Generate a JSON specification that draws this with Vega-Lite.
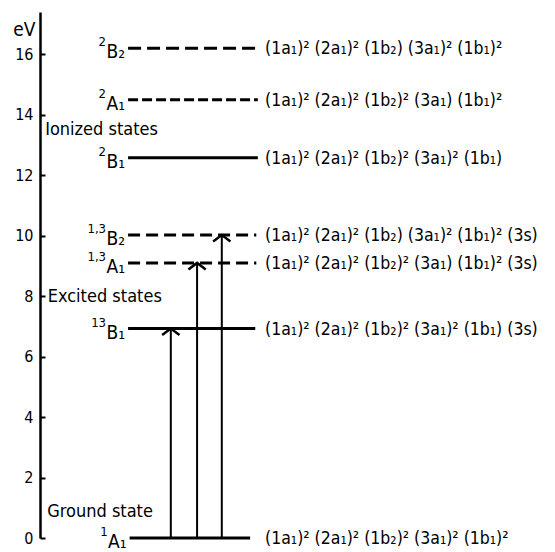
{
  "$schema": "https://vega.github.io/schema/vega-lite/v6.json",
  "width": 515,
  "height": 526,
  "autosize": "none",
  "padding": {"left": 40, "top": 12, "right": 0, "bottom": 14},
  "background": "white",
  "config": {
    "view": {"stroke": null},
    "font": "'DejaVu Sans Condensed', 'DejaVu Sans'",
    "text": {"font": "'DejaVu Sans Condensed', 'DejaVu Sans'", "color": "black"}
  },
  "datasets": {
    "levels": [
      {"state": "2B2", "sup": "2", "main": "B₂", "energy": 16.2, "x0": 17.1, "x1": 42.3, "line": "long dash", "config": "(1a₁)² (2a₁)² (1b₂) (3a₁)² (1b₁)²"},
      {"state": "2A1", "sup": "2", "main": "A₁", "energy": 14.5, "x0": 17.1, "x1": 42.3, "line": "short dash", "config": "(1a₁)² (2a₁)² (1b₂)² (3a₁) (1b₁)²"},
      {"state": "2B1", "sup": "2", "main": "B₁", "energy": 12.58, "x0": 17.1, "x1": 42.3, "line": "solid", "config": "(1a₁)² (2a₁)² (1b₂)² (3a₁)² (1b₁)"},
      {"state": "1,3B2", "sup": "1,3", "main": "B₂", "energy": 10.02, "x0": 17.1, "x1": 42.0, "line": "dash", "config": "(1a₁)² (2a₁)² (1b₂) (3a₁)² (1b₁)² (3s)"},
      {"state": "1,3A1", "sup": "1,3", "main": "A₁", "energy": 9.1, "x0": 17.1, "x1": 42.0, "line": "dash", "config": "(1a₁)² (2a₁)² (1b₂)² (3a₁) (1b₁)² (3s)"},
      {"state": "13B1", "sup": "13", "main": "B₁", "energy": 6.93, "x0": 17.1, "x1": 41.8, "line": "solid", "config": "(1a₁)² (2a₁)² (1b₂)² (3a₁)² (1b₁) (3s)"},
      {"state": "1A1", "sup": "1", "main": "A₁", "energy": 0, "x0": 17.4, "x1": 40.8, "line": "solid", "config": "(1a₁)² (2a₁)² (1b₂)² (3a₁)² (1b₁)²"}
    ],
    "arrows": [
      {"to": "13B1", "x": 25.4, "e0": 0, "e1": 6.93},
      {"to": "1,3A1", "x": 30.5, "e0": 0, "e1": 9.1},
      {"to": "1,3B2", "x": 35.3, "e0": 0, "e1": 10.02}
    ],
    "groups": [
      {"label": "Ionized states", "x": 1.0, "energy": 13.5},
      {"label": "Excited states", "x": 1.5, "energy": 7.97},
      {"label": "Ground state", "x": 1.4, "energy": 0.86}
    ]
  },
  "layer": [
    {
      "data": {"name": "levels"},
      "mark": {"type": "rule", "strokeWidth": 3, "color": "black"},
      "encoding": {
        "x": {"field": "x0", "type": "quantitative", "scale": {"domain": [0, 100], "nice": false}, "axis": null},
        "x2": {"field": "x1"},
        "y": {
          "field": "energy", "type": "quantitative",
          "scale": {"domain": [0, 17.4], "nice": false, "zero": true},
          "axis": {
            "values": [0, 2, 4, 6, 8, 10, 12, 14, 16],
            "grid": false,
            "domainColor": "black", "domainWidth": 2.5,
            "tickColor": "black", "tickWidth": 2, "tickSize": -5,
            "labelFontSize": 16, "labelColor": "black", "labelPadding": 12,
            "labelFont": "'DejaVu Sans Condensed', 'DejaVu Sans'",
            "title": "eV", "titleAngle": 0, "titleAlign": "right", "titleBaseline": "middle",
            "titleX": -5, "titleY": 17, "titleFontSize": 19, "titleFontWeight": "normal",
            "titleColor": "black", "titleFont": "'DejaVu Sans Condensed', 'DejaVu Sans'"
          }
        },
        "strokeDash": {
          "field": "line", "type": "nominal",
          "scale": {"domain": ["solid", "long dash", "short dash", "dash"], "range": [[1, 0], [13, 6], [10, 4], [12, 6]]},
          "legend": null
        }
      }
    },
    {
      "data": {"name": "arrows"},
      "mark": {"type": "rule", "strokeWidth": 2, "color": "black"},
      "encoding": {
        "x": {"field": "x", "type": "quantitative"},
        "y": {"field": "e0", "type": "quantitative"},
        "y2": {"field": "e1"}
      }
    },
    {
      "data": {"name": "arrows"},
      "mark": {"type": "point", "shape": "M -1 0.75 L 0 0 L 1 0.75", "size": 300, "filled": false, "stroke": "black", "strokeWidth": 2.5, "opacity": 1},
      "encoding": {
        "x": {"field": "x", "type": "quantitative"},
        "y": {"field": "e1", "type": "quantitative"}
      }
    },
    {
      "data": {"name": "levels"},
      "mark": {"type": "text", "align": "right", "baseline": "middle", "dx": -3, "dy": 4, "fontSize": 19},
      "encoding": {
        "x": {"field": "x0", "type": "quantitative"},
        "y": {"field": "energy", "type": "quantitative"},
        "text": {"field": "main"}
      }
    },
    {
      "data": {"name": "levels"},
      "mark": {"type": "text", "align": "right", "baseline": "middle", "dx": -22, "dy": -6, "fontSize": 13},
      "encoding": {
        "x": {"field": "x0", "type": "quantitative"},
        "y": {"field": "energy", "type": "quantitative"},
        "text": {"field": "sup"}
      }
    },
    {
      "data": {"name": "levels"},
      "mark": {"type": "text", "align": "left", "baseline": "middle", "dy": 1, "fontSize": 17.5},
      "encoding": {
        "x": {"datum": 43.7, "type": "quantitative"},
        "y": {"field": "energy", "type": "quantitative"},
        "text": {"field": "config"}
      }
    },
    {
      "data": {"name": "groups"},
      "mark": {"type": "text", "align": "left", "baseline": "middle", "fontSize": 18},
      "encoding": {
        "x": {"field": "x", "type": "quantitative"},
        "y": {"field": "energy", "type": "quantitative"},
        "text": {"field": "label"}
      }
    }
  ]
}
